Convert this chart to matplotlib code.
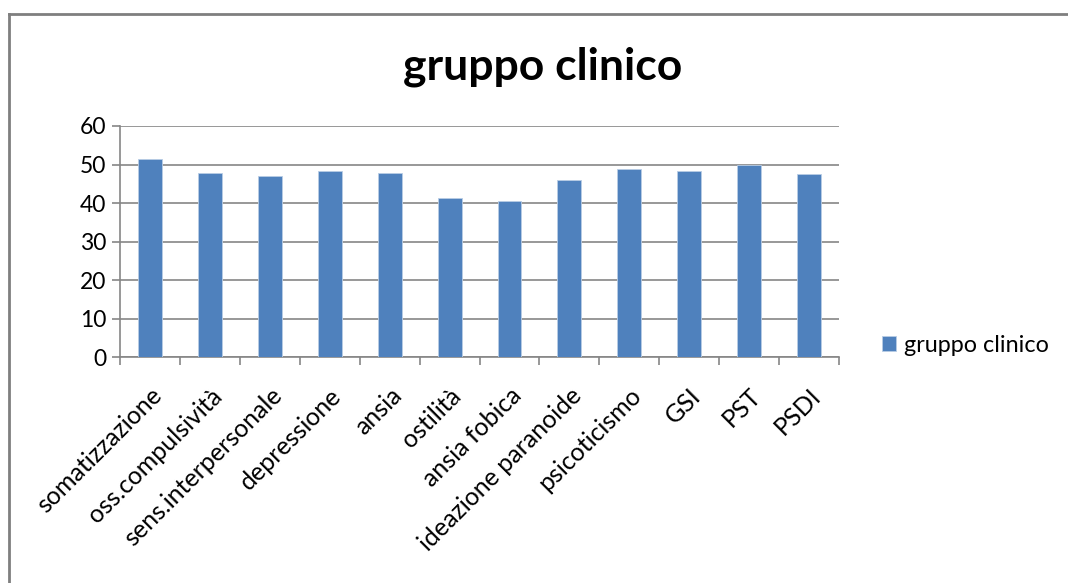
import matplotlib
matplotlib.use("Agg")
from matplotlib import pyplot as plt
from matplotlib.lines import Line2D

plt.rcParams['font.family'] = ['Lato', 'DejaVu Sans']

categories = ['somatizzazione', 'oss.compulsività', 'sens.interpersonale', 'depressione',
              'ansia', 'ostilità', 'ansia fobica', 'ideazione paranoide', 'psicoticismo',
              'GSI', 'PST', 'PSDI']
values = [51.4, 47.7, 47.0, 48.4, 47.7, 41.4, 40.5, 46.1, 48.8, 48.4, 49.9, 47.5]
series_name = 'gruppo clinico'

BAR_COLOR = '#4f81bd'
GRID_COLOR = '#868686'

fig = plt.figure(figsize=(10.68, 5.83), dpi=100)
ax = fig.add_axes([0.1124, 0.387, 0.6732, 0.397])

x = range(len(categories))
ax.bar(x, values, width=0.4, color=BAR_COLOR, edgecolor='#b9cde5', linewidth=0.6,
       label=series_name, zorder=3)

ax.set_xlim(-0.5, len(categories) - 0.5)
ax.set_ylim(0, 60)
ax.set_yticks(range(0, 61, 10))
ax.yaxis.grid(True, color=GRID_COLOR, linewidth=1.2, zorder=0)
ax.tick_params(axis='y', labelsize=16.5, length=6, color=GRID_COLOR, width=1.2, pad=4)

ax.set_xticks(list(x))
ax.set_xticklabels(categories, rotation=45, ha='right', rotation_mode='anchor', fontsize=18)
ax.tick_params(axis='x', which='major', length=0, pad=19)
ax.set_xticks([i - 0.5 for i in range(len(categories) + 1)], minor=True)
ax.tick_params(axis='x', which='minor', length=6, color=GRID_COLOR, width=1.2)

for s in ['top', 'right']:
    ax.spines[s].set_visible(False)
for s in ['left', 'bottom']:
    ax.spines[s].set_color(GRID_COLOR)
    ax.spines[s].set_linewidth(1.2)

fig.text(0.508, 0.886, 'gruppo clinico', ha='center', va='center',
         fontsize=32, fontweight='bold')

leg = fig.legend(loc='center left', bbox_to_anchor=(0.806, 0.408), frameon=False,
                 fontsize=16.8, handlelength=0.6, handleheight=0.6, handletextpad=0.35)

# outer chart frame (only top and left visible in the crop)
fig.add_artist(Line2D([0.008, 1.0], [0.976, 0.976], color='#7f7f7f', linewidth=2,
                      transform=fig.transFigure))
fig.add_artist(Line2D([0.008, 0.008], [0.0, 0.976], color='#7f7f7f', linewidth=2,
                      transform=fig.transFigure))

fig.savefig('out.png', dpi=100)
